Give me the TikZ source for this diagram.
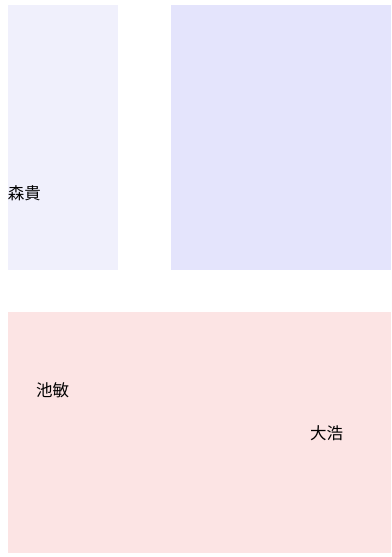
\documentclass[tikz,border=0pt]{standalone}
\usepackage{fontspec}
\setmainfont{Noto Sans CJK JP}
\usetikzlibrary{positioning}
\definecolor{paleblue}{HTML}{F0F0FC}
\definecolor{lavblue}{HTML}{E4E4FC}
\definecolor{palerose}{HTML}{FCE4E4}

\begin{document}
\begin{tikzpicture}[
    x=1pt, y=-1pt,
    every node/.style={inner sep=0pt, outer sep=0pt},
    areabox/.style={draw=none, rectangle, anchor=north west},
    person/.style={anchor=west, font=\fontsize{16.5}{18}\selectfont, text=black}
]
\useasboundingbox (0,0) rectangle (391,557);
\node[areabox, fill=paleblue, minimum width=110pt, minimum height=265pt] (left) at (8,5) {};
\node[areabox, fill=lavblue, minimum width=220pt, minimum height=265pt] (right) at (171,5) {};
\node[areabox, fill=palerose, minimum width=383pt, minimum height=241pt] (bottom) at (8,312) {};

\node[person] (mori) at (8,193) {森貴};
\node[person] (ike) at (36,390) {池敏};
\node[person] (dai) at (310,433) {大浩};
\end{tikzpicture}
\end{document}
